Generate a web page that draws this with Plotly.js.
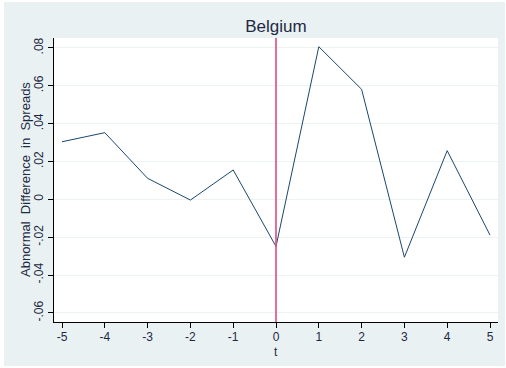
<!DOCTYPE html>
<html>
<head>
<meta charset="utf-8">
<script src="https://cdn.plot.ly/plotly-3.0.1.min.js"></script>
<style>
  html, body { margin: 0; padding: 0; background: #ffffff; }
  #chart { width: 506px; height: 368px; }
</style>
</head>
<body>
<div id="chart"></div>
<script>
// Event window around t = 0
const eventTime = [-5, -4, -3, -2, -1, 0, 1, 2, 3, 4, 5];
// Abnormal difference in spreads at each event time
const abnormalDiff = [0.0304, 0.0352, 0.0111, -0.0004, 0.0155, -0.0249, 0.0806, 0.0581, -0.0306, 0.0257, -0.0189];

const xTicks = [-5, -4, -3, -2, -1, 0, 1, 2, 3, 4, 5];
const yTicks = [-0.06, -0.04, -0.02, 0, 0.02, 0.04, 0.06, 0.08];
const yTickText = ['-.06', '-.04', '-.02', '0', '.02', '.04', '.06', '.08'];

const W = 506, H = 368;
const M = { l: 54, r: 8, t: 38, b: 46 };
const pw = W - M.l - M.r, ph = H - M.t - M.b;
// pixel -> paper helpers for the outer frame and titles
const px = v => (v - M.l) / pw;
const py = v => (H - M.b - v) / ph;

const frameBg = '#eaf1f3';
const textCol = '#1e2a44';
const family = 'Liberation Sans, Arial, sans-serif';

const trace = {
  x: eventTime,
  y: abnormalDiff,
  type: 'scatter',
  mode: 'lines',
  line: { color: '#1a476f', width: 1 },
  hoverinfo: 'skip'
};

const layout = {
  width: W,
  height: H,
  margin: M,
  paper_bgcolor: frameBg,
  plot_bgcolor: '#ffffff',
  showlegend: false,
  font: { family: family, size: 12, color: textCol },
  title: {
    text: 'Belgium',
    font: { family: family, size: 17, color: textCol },
    x: 0.5, xanchor: 'center', xref: 'paper',
    y: 1 - 26 / H, yanchor: 'middle', yref: 'container'
  },
  xaxis: {
    range: [-5.187, 5.187],
    tickvals: xTicks,
    ticktext: xTicks.map(String),
    showgrid: false,
    zeroline: false,
    showline: true,
    linecolor: '#000000',
    linewidth: 1,
    ticks: 'outside',
    ticklen: 5,
    tickcolor: '#000000',
    ticklabelstandoff: -1,
    tickfont: { size: 12, color: textCol }
  },
  yaxis: {
    range: [-0.0648, 0.0852],
    tickvals: yTicks,
    ticktext: yTickText,
    tickangle: -90,
    showgrid: true,
    gridcolor: '#edf3f3',
    gridwidth: 1,
    zeroline: false,
    showline: true,
    linecolor: '#000000',
    linewidth: 1,
    ticks: 'outside',
    ticklen: 5,
    tickcolor: '#000000',
    tickfont: { size: 12, color: textCol }
  },
  annotations: [
    // x-axis title
    { text: 't', xref: 'x', yref: 'paper', x: 0, y: py(352),
      xanchor: 'center', yanchor: 'middle', showarrow: false, borderpad: 0,
      font: { size: 12, color: textCol } },
    // y-axis title
    { text: 'Abnormal\u00a0\u00a0Difference\u00a0\u00a0in\u00a0\u00a0Spreads',
      xref: 'paper', yref: 'paper', x: px(25), y: py(180),
      xanchor: 'center', yanchor: 'middle', textangle: -90, showarrow: false,
      font: { size: 13, color: textCol } }
  ],
  shapes: [
    // event-date marker
    { type: 'line', xref: 'x', yref: 'paper', x0: 0, x1: 0, y0: 0, y1: 1,
      line: { color: '#dc4d78', width: 1.6 }, layer: 'above' },
    // thin white border around the outer frame
    { type: 'rect', xref: 'paper', yref: 'paper', x0: px(0), x1: px(4), y0: py(H), y1: py(0),
      fillcolor: '#ffffff', line: { width: 0 }, layer: 'above' },
    { type: 'rect', xref: 'paper', yref: 'paper', x0: px(0), x1: px(W), y0: py(2), y1: py(0),
      fillcolor: '#ffffff', line: { width: 0 }, layer: 'above' },
    { type: 'rect', xref: 'paper', yref: 'paper', x0: px(0), x1: px(W), y0: py(H), y1: py(366),
      fillcolor: '#ffffff', line: { width: 0 }, layer: 'above' },
    { type: 'rect', xref: 'paper', yref: 'paper', x0: px(505), x1: px(W), y0: py(H), y1: py(0),
      fillcolor: '#ffffff', line: { width: 0 }, layer: 'above' }
  ]
};

Plotly.newPlot('chart', [trace], layout, { displayModeBar: false, staticPlot: true });
</script>
</body>
</html>
